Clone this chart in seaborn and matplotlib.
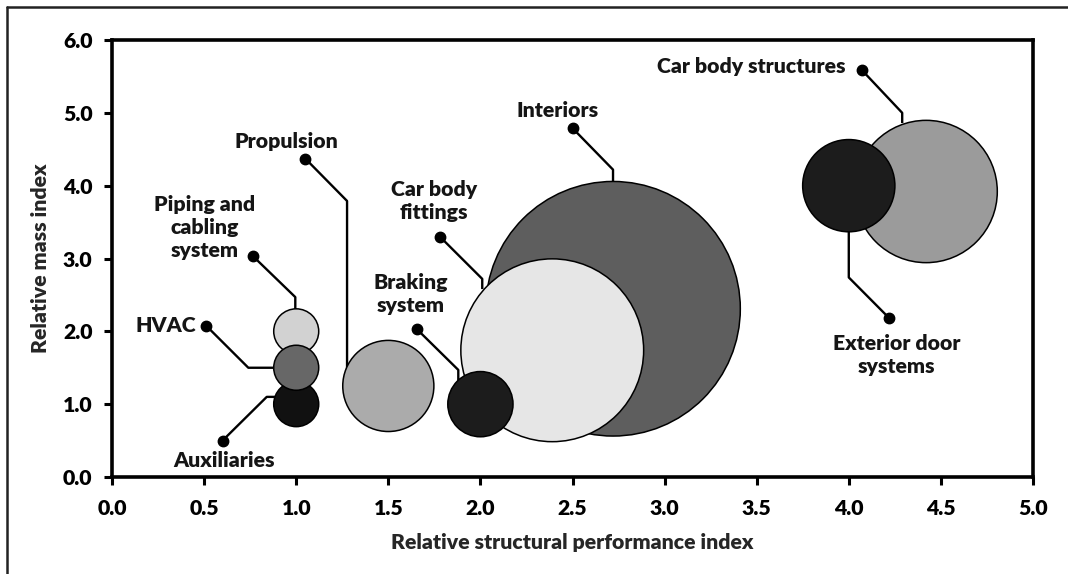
import matplotlib
matplotlib.use('Agg')
import matplotlib.pyplot as plt
import seaborn as sns
import pandas as pd
from matplotlib.lines import Line2D

# subsystems, in drawing order (back to front)
systems = ["Interiors", "Car body fittings", "Braking system", "Propulsion",
           "Piping and cabling system", "Auxiliaries", "HVAC",
           "Car body structures", "Exterior door systems"]
perf = [2.72, 2.39, 2.0, 1.5, 1.0, 1.0, 1.0, 4.42, 4.0]
mass = [2.31, 1.74, 1.0, 1.25, 2.0, 1.0, 1.5, 3.92, 4.0]
bubble = [32, 16.5, 2.1, 4.1, 1, 1, 1, 10, 4.2]

labels = ["Interiors", "Car body\nfittings", "Braking\nsystem", "Propulsion",
          "Piping and\ncabling\nsystem", "Auxiliaries", "HVAC",
          "Car body structures", "Exterior door\nsystems"]

x_ticks = [0.0, 0.5, 1.0, 1.5, 2.0, 2.5, 3.0, 3.5, 4.0, 4.5, 5.0]
y_ticks = [0.0, 1.0, 2.0, 3.0, 4.0, 5.0, 6.0]

shades = {"Interiors": "#5e5e5e", "Car body fittings": "#e6e6e6",
          "Braking system": "#1c1c1c", "Propulsion": "#ababab",
          "Piping and cabling system": "#d2d2d2", "Auxiliaries": "#111111",
          "HVAC": "#676767", "Car body structures": "#9b9b9b",
          "Exterior door systems": "#1c1c1c"}

# label text centre and leader path (dot first, bubble last), data coords
callouts = {
    "Interiors": ((2.42, 5.03), [(2.50, 4.79), (2.72, 4.22), (2.72, 4.06)]),
    "Car body fittings": ((1.75, 3.79), [(1.78, 3.30), (2.01, 2.72), (2.01, 2.58)]),
    "Braking system": ((1.62, 2.51), [(1.655, 2.03), (1.88, 1.47), (1.88, 1.32)]),
    "Propulsion": ((0.945, 4.60), [(1.05, 4.37), (1.276, 3.79), (1.276, 1.42)]),
    "Piping and cabling system": ((0.505, 3.42), [(0.766, 3.03), (0.995, 2.47), (0.995, 2.28)]),
    "Auxiliaries": ((0.61, 0.23), [(0.60, 0.50), (0.84, 1.10), (0.90, 1.10)]),
    "HVAC": ((0.29, 2.08), [(0.51, 2.08), (0.74, 1.50), (0.89, 1.50)]),
    "Car body structures": ((3.47, 5.63), [(4.07, 5.59), (4.29, 5.0), (4.29, 4.86)]),
    "Exterior door systems": ((4.26, 1.68), [(4.22, 2.18), (4.0, 2.74), (4.0, 3.37)]),
}

df = pd.DataFrame({"system": systems, "perf": perf, "mass": mass, "bubble": bubble})

sns.set_style("white")
plt.rcParams['font.family'] = ['Lato', 'DejaVu Sans']
plt.rcParams['font.weight'] = 'heavy'

FS = 15.3

fig = plt.figure(figsize=(10.68, 5.74), dpi=100)
ax = fig.add_axes([0.1049, 0.169, 0.8623, 0.7613])

unit = 1050  # marker area (pt^2) per bubble unit
sns.scatterplot(data=df, x="perf", y="mass", hue="system", palette=shades,
                size="bubble", sizes=(unit * min(bubble), unit * max(bubble)),
                size_norm=(min(bubble), max(bubble)), edgecolor="black",
                linewidth=1.1, alpha=1, legend=False, ax=ax, zorder=3)

for name, lab in zip(systems, labels):
    (tx, ty), path = callouts[name]
    xs = [p[0] for p in path]
    ys = [p[1] for p in path]
    ax.plot(xs, ys, color="black", lw=1.7, zorder=2, solid_capstyle="butt")
    ax.plot(xs[0], ys[0], "o", color="black", ms=7.5, zorder=2)
    ax.text(tx, ty, lab, ha="center", va="center", fontsize=FS,
            fontweight="heavy", linespacing=1.25, color="#151515")

ax.set_xlim(0, 5)
ax.set_ylim(0, 6)
ax.set_xticks(x_ticks)
ax.set_yticks(y_ticks)
ax.set_xticklabels([f"{v:.1f}" for v in x_ticks])
ax.set_yticklabels([f"{v:.1f}" for v in y_ticks])
ax.tick_params(axis="both", direction="out", length=6, width=2.2, labelsize=FS,
               pad=8, bottom=True, left=True, colors="black")
ax.tick_params(axis="x", pad=10)
for lbl in ax.get_xticklabels() + ax.get_yticklabels():
    lbl.set_fontweight("heavy")
for s in ax.spines.values():
    s.set_linewidth(2.6)
    s.set_color("black")

ax.set_xlabel("Relative structural performance index", fontsize=FS, fontweight="heavy")
ax.set_ylabel("Relative mass index", fontsize=FS, fontweight="heavy")
ax.xaxis.set_label_coords(0.5, -0.151)
ax.xaxis.label.set_va("center")
ax.yaxis.set_label_coords(-0.078, 0.5)
ax.yaxis.label.set_va("center")

# outer frame (left and top edges only, as cropped)
fig.add_artist(Line2D([7 / 1068, 7 / 1068], [0, 1 - 7 / 574], color="#222222", lw=1.8))
fig.add_artist(Line2D([7 / 1068, 1], [1 - 7 / 574, 1 - 7 / 574], color="#222222", lw=1.8))

fig.savefig("out.png", dpi=100)
